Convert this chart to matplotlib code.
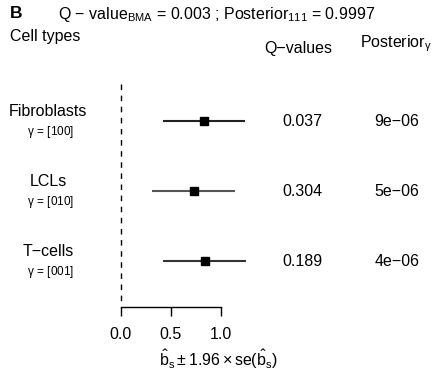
import matplotlib
matplotlib.use("Agg")
import matplotlib.pyplot as plt
import matplotlib.transforms as mtransforms

plt.rcParams['font.family'] = ['Liberation Sans', 'DejaVu Sans']
plt.rcParams['mathtext.fontset'] = 'custom'
plt.rcParams['mathtext.rm'] = 'Liberation Sans'
plt.rcParams['mathtext.it'] = 'Liberation Sans'
plt.rcParams['mathtext.bf'] = 'Liberation Sans:bold'

# data
cell_types = ['Fibroblasts', 'LCLs', 'T\u2212cells']
gammas = ['[100]', '[010]', '[001]']
b_hat = [0.825, 0.728, 0.836]
ci_low = [0.417, 0.313, 0.420]
ci_high = [1.240, 1.140, 1.250]
q_values = ['0.037', '0.304', '0.189']
posteriors = ['9e\u221206', '5e\u221206', '4e\u221206']
line_colors = ['#222222', '#555555', '#333333']
x_ticks = [0.0, 0.5, 1.0]

W, H = 437, 379
fig = plt.figure(figsize=(W / 100, H / 100), dpi=100)

# axes spans full width; bottom edge sits on the x axis line
ax_bottom, ax_top = 307, 80
ax = fig.add_axes([0, 1 - ax_bottom / H, 1, (ax_bottom - ax_top) / H])
ax.set_xlim(-1.21, 3.16)
ax.set_ylim(2.648, -0.584)

rows = list(range(len(cell_types)))
for i in rows:
    ax.plot([ci_low[i], ci_high[i]], [i, i], color=line_colors[i], lw=1.5,
            solid_capstyle='butt')
    ax.plot(b_hat[i], i, marker='s', color='black', markersize=6.2, ls='none')

# zero reference line
ax.plot([0, 0], [-0.53, 2.56], color='black', lw=1, ls=(0, (4, 4)))

for s in ['top', 'right', 'left']:
    ax.spines[s].set_visible(False)
ax.spines['bottom'].set_bounds(0, 1)
ax.spines['bottom'].set_linewidth(1)
ax.set_yticks([])
ax.set_xticks(x_ticks)
ax.set_xticklabels([f'{t:.1f}' for t in x_ticks])
ax.tick_params(axis='x', direction='out', length=6.5, width=1, labelsize=11.5, pad=8)
ax.set_xlabel(r'$\hat{\mathrm{b}}_{\mathrm{s}} \pm 1.96 \times \mathrm{se}(\hat{\mathrm{b}}_{\mathrm{s}})$',
              fontsize=11.5, labelpad=4)

# text columns: x in figure fraction, y in data rows
tr = mtransforms.blended_transform_factory(fig.transFigure, ax.transData)
for i in rows:
    ax.text(48 / W, i - 0.14, cell_types[i], transform=tr, ha='center', va='center',
            fontsize=11.5)
    ax.text(51 / W, i + 0.15, r'$\gamma\,=\,$' + gammas[i], transform=tr, ha='center',
            va='center', fontsize=8.5)
    ax.text(302 / W, i, q_values[i], transform=tr, ha='center', va='center', fontsize=11.5)
    ax.text(397 / W, i, posteriors[i], transform=tr, ha='center', va='center', fontsize=11.5)

# headers and title
fig.text(10 / W, 1 - 14 / H, 'B', fontsize=12.5, fontweight='bold', ha='left', va='center')
fig.text(217 / W, 1 - 15 / H,
         'Q \u2212 value$_{\\mathrm{BMA}}$ = 0.003 ; Posterior$_{111}$ = 0.9997',
         fontsize=11.5, ha='center', va='center')
fig.text(45 / W, 1 - 36 / H, 'Cell types', fontsize=11.5, ha='center', va='center')
fig.text(298 / W, 1 - 49 / H, 'Q\u2212values', fontsize=11.5, ha='center', va='center')
fig.text(396 / W, 1 - 44 / H, r'Posterior$_{\gamma}$', fontsize=11.5, ha='center', va='center')

fig.savefig('out.png', dpi=100)
